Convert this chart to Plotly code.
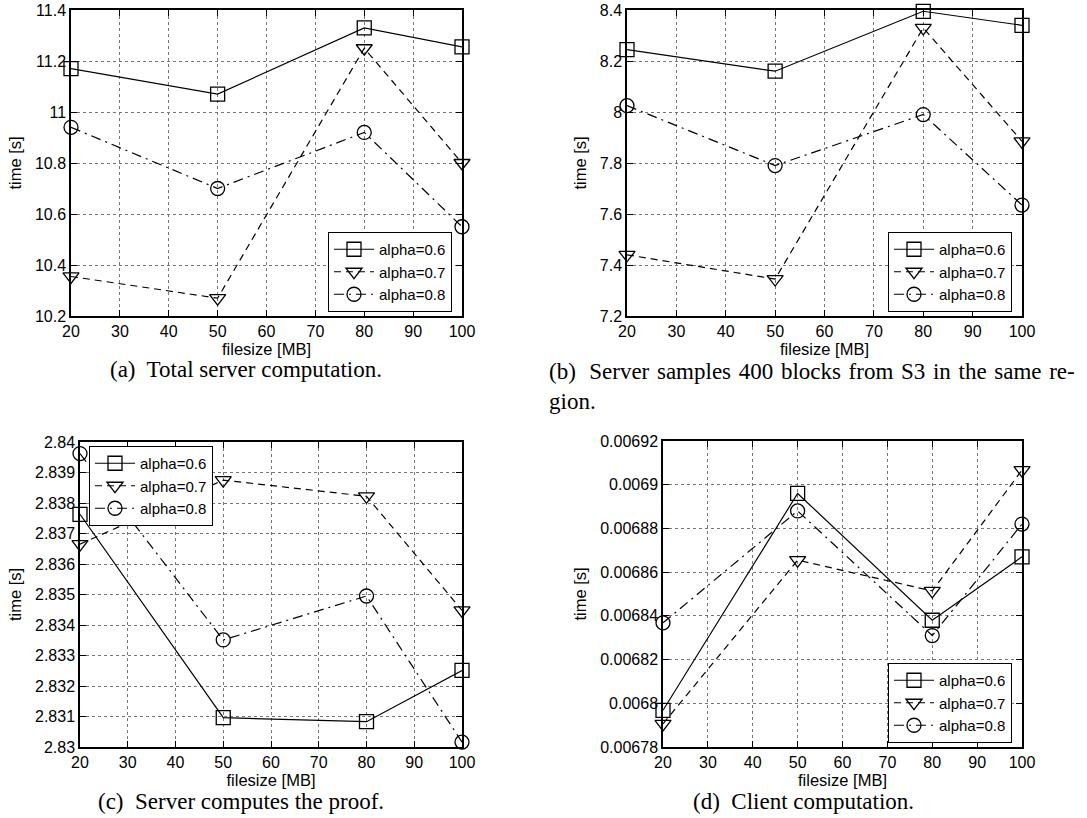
import plotly.graph_objects as go

filesize = [20, 50, 80, 100]
labels = ["alpha=0.6", "alpha=0.7", "alpha=0.8"]

a_06 = [11.17, 11.07, 11.33, 11.255]
a_07 = [10.355, 10.27, 11.25, 10.80]
a_08 = [10.94, 10.70, 10.92, 10.55]

b_06 = [8.245, 8.16, 8.395, 8.34]
b_07 = [7.44, 7.345, 8.33, 7.885]
b_08 = [8.025, 7.79, 7.99, 7.635]

c_06 = [2.83763, 2.83096, 2.83083, 2.83251]
c_07 = [2.83665, 2.83875, 2.83822, 2.83448]
c_08 = [2.83962, 2.83351, 2.83495, 2.83016]

d_06 = [0.0067968, 0.006896, 0.006838, 0.006867]
d_07 = [0.0067906, 0.0068655, 0.0068514, 0.0069067]
d_08 = [0.0068368, 0.006888, 0.006831, 0.006882]

yticks_a = [10.2, 10.4, 10.6, 10.8, 11.0, 11.2, 11.4]
yticks_a_txt = ["10.2", "10.4", "10.6", "10.8", "11", "11.2", "11.4"]
yticks_b = [7.2, 7.4, 7.6, 7.8, 8.0, 8.2, 8.4]
yticks_b_txt = ["7.2", "7.4", "7.6", "7.8", "8", "8.2", "8.4"]
yticks_c = [2.830, 2.831, 2.832, 2.833, 2.834, 2.835, 2.836, 2.837, 2.838, 2.839, 2.840]
yticks_c_txt = ["2.83", "2.831", "2.832", "2.833", "2.834", "2.835", "2.836", "2.837", "2.838", "2.839", "2.84"]
yticks_d = [0.00678, 0.00680, 0.00682, 0.00684, 0.00686, 0.00688, 0.00690, 0.00692]
yticks_d_txt = ["0.00678", "0.0068", "0.00682", "0.00684", "0.00686", "0.00688", "0.0069", "0.00692"]
xticks = [20, 30, 40, 50, 60, 70, 80, 90, 100]

W, H = 1087, 818

panels = [
    ([a_06, a_07, a_08], [10.2, 11.4], yticks_a, yticks_a_txt, (71, 462), (10, 316),
     dict(x=452, y=312, xanchor="right", yanchor="bottom")),
    ([b_06, b_07, b_08], [7.2, 8.4], yticks_b, yticks_b_txt, (627, 1022), (10, 316),
     dict(x=1012, y=312, xanchor="right", yanchor="bottom")),
    ([c_06, c_07, c_08], [2.830, 2.840], yticks_c, yticks_c_txt, (80, 462), (442, 747),
     dict(x=89, y=446, xanchor="left", yanchor="top")),
    ([d_06, d_07, d_08], [0.00678, 0.00692], yticks_d, yticks_d_txt, (663, 1022), (441, 747),
     dict(x=1012, y=743, xanchor="right", yanchor="bottom")),
]

styles = [
    dict(dash="solid", symbol="square-open"),
    dict(dash="7px,5px", symbol="triangle-down-open"),
    dict(dash="10px,5px,2px,5px", symbol="circle-open"),
]

sans = "Liberation Sans, Arial, sans-serif"
fig = go.Figure()
layout = {}
for i, (series, yr, yt, ytt, xd, yd, lg) in enumerate(panels):
    n = "" if i == 0 else str(i + 1)
    lname = "legend" + n
    for s, lab, st in zip(series, labels, styles):
        fig.add_trace(go.Scatter(
            x=filesize, y=s, name=lab, mode="lines+markers",
            xaxis="x" + n, yaxis="y" + n, legend=lname,
            line=dict(color="black", width=1.2, dash=st["dash"]),
            marker=dict(symbol=st["symbol"], size=14, color="black",
                        line=dict(color="black", width=1.3)),
            cliponaxis=False,
        ))
    axcommon = dict(showline=True, linecolor="black", linewidth=1.5, mirror="ticks",
                    ticks="inside", ticklen=6, tickcolor="black",
                    showgrid=True, gridcolor="#777", griddash="dot", gridwidth=1,
                    zeroline=False, automargin=False,
                    tickfont=dict(family=sans, size=16, color="black"))
    layout["xaxis" + n] = dict(axcommon, domain=[xd[0] / W, xd[1] / W], range=[20, 100],
                               tickvals=xticks, anchor="y" + n,
                               title=dict(text="filesize [MB]", standoff=0,
                                          font=dict(family=sans, size=16.5, color="black")))
    layout["yaxis" + n] = dict(axcommon, domain=[1 - yd[1] / H, 1 - yd[0] / H], range=yr,
                               tickvals=yt, ticktext=ytt, anchor="x" + n,
                               title=dict(text="time [s]", standoff=9,
                                          font=dict(family=sans, size=16.5, color="black")))
    layout[lname] = dict(x=lg["x"] / W, y=1 - lg["y"] / H, xanchor=lg["xanchor"],
                         yanchor=lg["yanchor"], xref="paper", yref="paper",
                         bgcolor="white", bordercolor="black", borderwidth=1,
                         font=dict(family=sans, size=15, color="black"),
                         itemwidth=40, tracegroupgap=0)

fig.update_layout(**layout)

serif = dict(family="Liberation Serif, Times New Roman, serif", size=23, color="black")
captions = [
    ("(a)  Total server computation.", 246, 370),
    ("(c)  Server computes the proof.", 241, 801),
    ("(d)  Client computation.", 803, 801),
]
for txt, cx, cy in captions:
    fig.add_annotation(text=txt, x=cx / W, y=1 - cy / H, xref="paper", yref="paper",
                       showarrow=False, font=serif, xanchor="center", yanchor="middle")
hs = " \u200a"
line1 = hs.join(["(b)", " Server", "samples", "400", "blocks", "from", "S3", "in", "the", "same", "re-"])
fig.add_annotation(text=line1 + "<br>gion.",
                   x=547 / W, y=1 - 357 / H, xref="paper", yref="paper", showarrow=False,
                   font=serif, xanchor="left", yanchor="top", align="left")

fig.update_layout(width=W, height=H,
                  margin=dict(l=0, r=0, t=0, b=0, pad=0, autoexpand=False),
                  paper_bgcolor="white", plot_bgcolor="white", showlegend=True)

fig.write_html("out.html",
               post_script="document.body.style.margin='0px';document.body.style.overflow='hidden';")
